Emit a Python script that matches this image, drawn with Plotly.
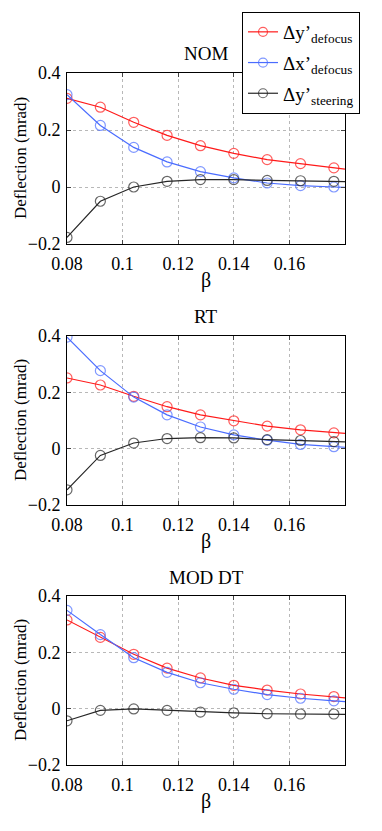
import plotly.graph_objects as go

# beta values (markers at the first nine points, line runs to the axis edge)
beta = [0.08, 0.092, 0.104, 0.116, 0.128, 0.14, 0.152, 0.164, 0.176, 0.18]

# NOM
nom_dy_defocus = [0.311, 0.280, 0.227, 0.181, 0.145, 0.118, 0.096, 0.082, 0.067, 0.063]
nom_dx_defocus = [0.324, 0.216, 0.139, 0.088, 0.054, 0.032, 0.014, 0.005, 0.000, -0.001]
nom_dy_steering = [-0.177, -0.050, 0.000, 0.020, 0.026, 0.026, 0.023, 0.022, 0.020, 0.019]

# RT
rt_dy_defocus = [0.251, 0.226, 0.186, 0.149, 0.120, 0.099, 0.080, 0.067, 0.056, 0.054]
rt_dx_defocus = [0.396, 0.277, 0.183, 0.120, 0.077, 0.049, 0.030, 0.015, 0.007, 0.005]
rt_dy_steering = [-0.146, -0.024, 0.020, 0.036, 0.039, 0.038, 0.032, 0.029, 0.025, 0.024]

# MOD DT
mod_dy_defocus = [0.315, 0.253, 0.193, 0.144, 0.109, 0.083, 0.066, 0.052, 0.043, 0.038]
mod_dx_defocus = [0.349, 0.263, 0.181, 0.129, 0.092, 0.069, 0.050, 0.037, 0.028, 0.025]
mod_dy_steering = [-0.043, -0.006, -0.001, -0.006, -0.012, -0.015, -0.018, -0.019, -0.019, -0.020]

panel_titles = ["NOM", "RT", "MOD DT"]
series_names = ["Δy’<sub>defocus</sub>", "Δx’<sub>defocus</sub>", "Δy’<sub>steering</sub>"]
x_ticks = [0.08, 0.1, 0.12, 0.14, 0.16]
x_ticktext = ["0.08", "0.1", "0.12", "0.14", "0.16"]
y_ticks = [-0.2, 0, 0.2, 0.4]
y_ticktext = ["−0.2", "0", "0.2", "0.4"]

panels = [
    (nom_dy_defocus, nom_dx_defocus, nom_dy_steering),
    (rt_dy_defocus, rt_dx_defocus, rt_dy_steering),
    (mod_dy_defocus, mod_dx_defocus, mod_dy_steering),
]
colors = ["#ff1a1a", "#4a6cff", "#262626"]

W, H = 382, 831
OFF = 8  # page body margin the browser adds around the plot div
FONT = "Liberation Serif"


def px(x):
    return (x - OFF) / W


def py(y):
    return 1 - (y - OFF) / H


x_dom = [px(67), px(345)]
# top / bottom pixel rows of each axes box (as seen on screen)
rows_px = [(73, 244), (336, 505), (596, 765)]

fig = go.Figure()
marker_sizes = [10] * 9 + [0]

for i, vals in enumerate(panels):
    xa = "x" if i == 0 else f"x{i + 1}"
    ya = "y" if i == 0 else f"y{i + 1}"
    for j, v in enumerate(vals):
        fig.add_trace(
            go.Scatter(
                x=beta,
                y=v,
                mode="lines+markers",
                name=series_names[j],
                legendgroup=f"s{j}",
                showlegend=(i == 0),
                line=dict(color=colors[j], width=1.2),
                marker=dict(symbol="circle-open", size=marker_sizes, color=colors[j],
                            line=dict(width=1.2, color=colors[j])),
                xaxis=xa,
                yaxis=ya,
            )
        )

layout = dict(
    width=W,
    height=H,
    margin=dict(l=0, r=0, t=0, b=0),
    paper_bgcolor="white",
    plot_bgcolor="white",
    font=dict(family=FONT, size=18, color="black"),
    legend=dict(
        x=px(242), y=py(12), xanchor="left", yanchor="top",
        bgcolor="white", bordercolor="black", borderwidth=1,
        font=dict(family=FONT, size=19, color="black"),
        itemwidth=30, traceorder="grouped", tracegroupgap=3,
    ),
    annotations=[],
)

for i, (top, bot) in enumerate(rows_px):
    sfx = "" if i == 0 else str(i + 1)
    y_dom = [py(bot), py(top)]
    common = dict(
        ticks="inside", ticklen=4, showline=True, linecolor="black", linewidth=1,
        mirror="ticks", showgrid=True, gridcolor="#b8b8b8", griddash="dot",
        gridwidth=1, zeroline=False, automargin=False,
        tickfont=dict(family=FONT, size=18),
    )
    layout["xaxis" + sfx] = dict(
        domain=x_dom, range=[0.08, 0.18], anchor="y" + sfx,
        tickvals=x_ticks, ticktext=x_ticktext, ticklabelstandoff=3, **common,
    )
    layout["yaxis" + sfx] = dict(
        domain=y_dom, range=[-0.2, 0.4], anchor="x" + sfx,
        tickvals=y_ticks, ticktext=y_ticktext, ticklabelstandoff=2, **common,
    )
    cx = (x_dom[0] + x_dom[1]) / 2
    layout["annotations"] += [
        dict(text=panel_titles[i], x=cx, y=py(top - 19), xref="paper", yref="paper",
             showarrow=False, font=dict(family=FONT, size=19), yanchor="middle"),
        dict(text="β", x=cx, y=py(bot + 36), xref="paper", yref="paper",
             showarrow=False, font=dict(family=FONT, size=20), yanchor="middle"),
        dict(text="Deflection (mrad)", x=px(9), y=(y_dom[0] + y_dom[1]) / 2,
             xref="paper", yref="paper", showarrow=False, textangle=-90,
             font=dict(family=FONT, size=17), xanchor="left", yanchor="middle"),
    ]

fig.update_layout(**layout)
fig.write_html("out.html")
